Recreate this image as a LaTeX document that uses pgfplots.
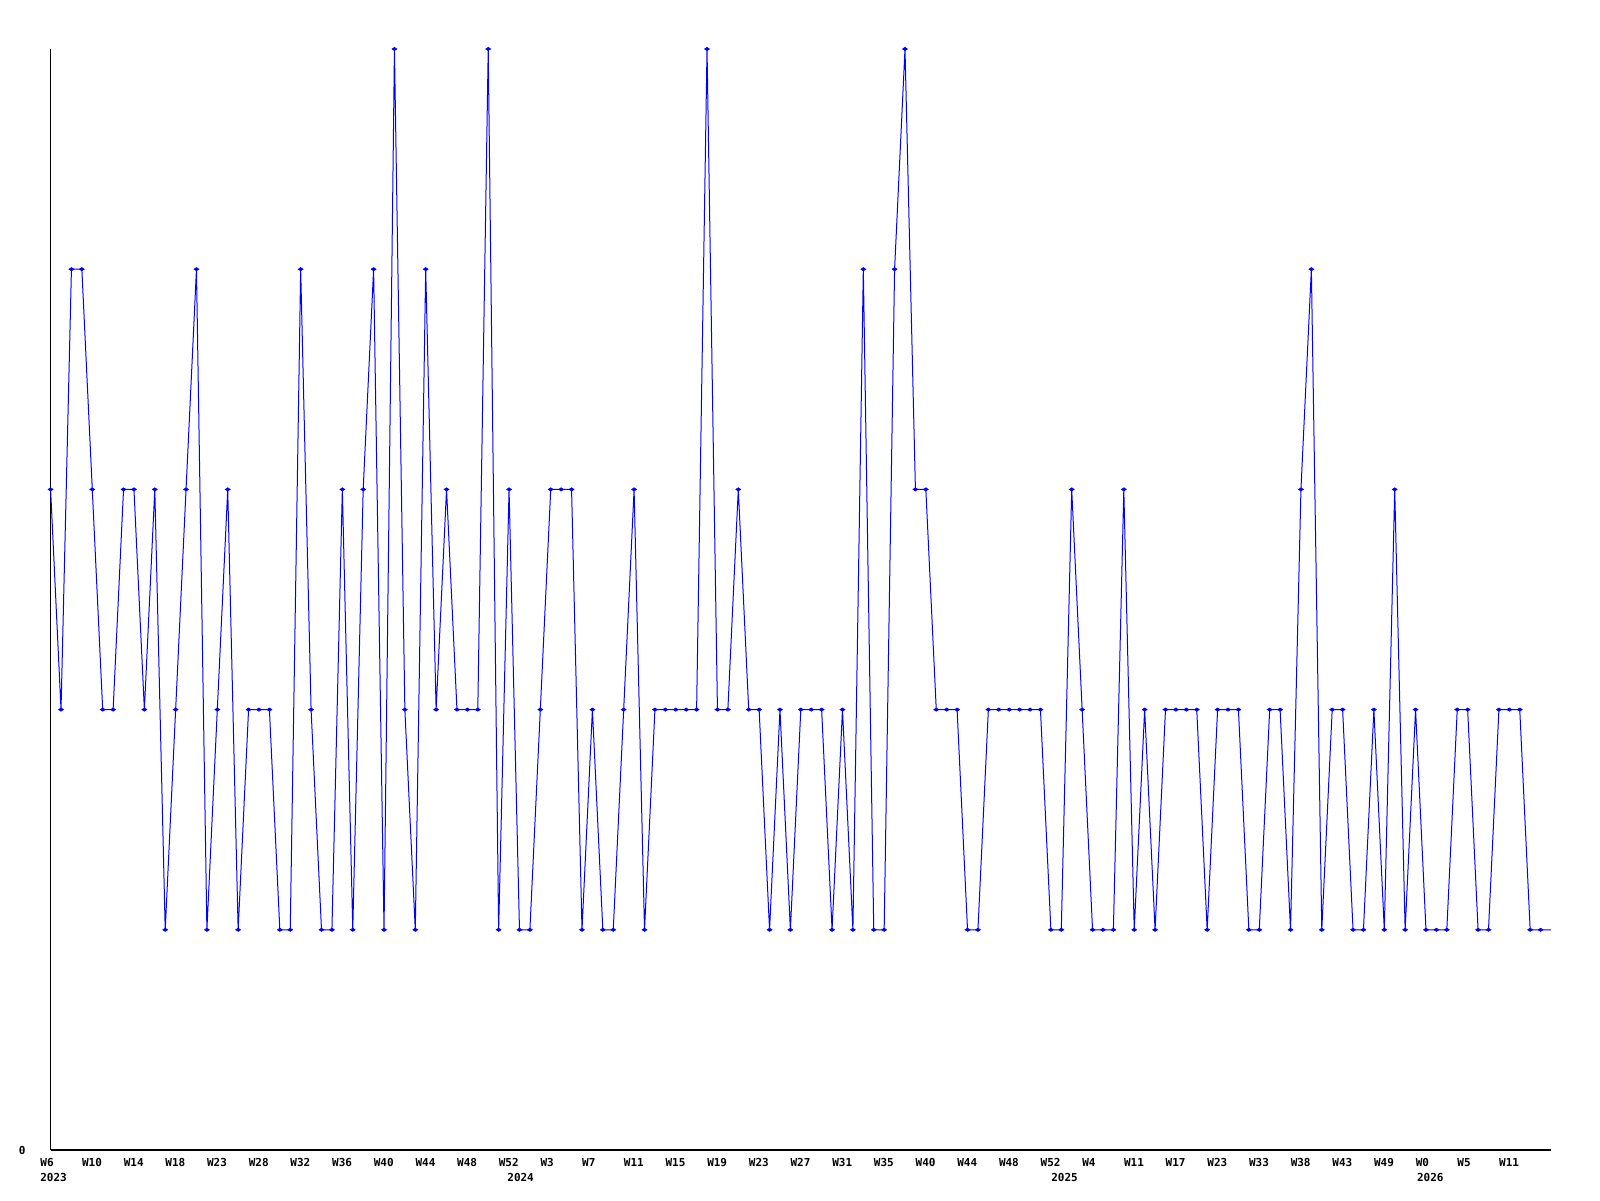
\documentclass[border=0pt]{standalone}
\usepackage{pgfplots}
\pgfplotsset{compat=1.18}
\usepackage{pgfplotstable}
\usepackage{fontspec}
\setmonofont{DejaVu Sans Mono}

% weekly counts, one row per plotted week (x = index)
\pgfplotstableread{
x y
0 3
1 2
2 4
3 4
4 3
5 2
6 2
7 3
8 3
9 2
10 3
11 1
12 2
13 3
14 4
15 1
16 2
17 3
18 1
19 2
20 2
21 2
22 1
23 1
24 4
25 2
26 1
27 1
28 3
29 1
30 3
31 4
32 1
33 5
34 2
35 1
36 4
37 2
38 3
39 2
40 2
41 2
42 5
43 1
44 3
45 1
46 1
47 2
48 3
49 3
50 3
51 1
52 2
53 1
54 1
55 2
56 3
57 1
58 2
59 2
60 2
61 2
62 2
63 5
64 2
65 2
66 3
67 2
68 2
69 1
70 2
71 1
72 2
73 2
74 2
75 1
76 2
77 1
78 4
79 1
80 1
81 4
82 5
83 3
84 3
85 2
86 2
87 2
88 1
89 1
90 2
91 2
92 2
93 2
94 2
95 2
96 1
97 1
98 3
99 2
100 1
101 1
102 1
103 3
104 1
105 2
106 1
107 2
108 2
109 2
110 2
111 1
112 2
113 2
114 2
115 1
116 1
117 2
118 2
119 1
120 3
121 4
122 1
123 2
124 2
125 1
126 1
127 2
128 1
129 3
130 1
131 2
132 1
133 1
134 1
135 2
136 2
137 1
138 1
139 2
140 2
141 2
142 1
143 1
144 1
}\weekly

\begin{document}
\begin{tikzpicture}
\path[use as bounding box] (-25.3pt,-25pt) rectangle (774.7pt,575pt);
\begin{axis}[
  scale only axis,
  width=750.2pt, height=550.5pt,
  xmin=0, xmax=144, ymin=0, ymax=5,
  axis x line=bottom, axis y line=left,
  axis line style={-, line width=0.6pt, black},
  clip=false,
  major tick length=0pt,
  font=\ttfamily\bfseries\fontsize{5.5}{6}\selectfont,
  xtick={0,4,...,140},
  xticklabels={W6,W10,W14,W18,W23,W28,W32,W36,W40,W44,W48,W52,
    W3,W7,W11,W15,W19,W23,W27,W31,W35,W40,W44,W48,W52,
    W4,W11,W17,W23,W33,W38,W43,W49,W0,W5,W11},
  xticklabel style={anchor=north west, inner sep=0pt, xshift=-5.3pt, yshift=-4pt},
  ytick={0}, yticklabels={0},
  yticklabel style={anchor=east, inner sep=0pt, xshift=-12.3pt},
]
\addplot[blue, line width=0.5pt] table[x=x, y=y] {\weekly};
\addplot[blue, only marks, mark=diamond*, mark size=1.4pt,
  mark options={xscale=1.1, yscale=0.55}, restrict x to domain=0:143]
  table[x=x, y=y] {\weekly};

\node[anchor=north west, inner sep=0pt, yshift=-11.5pt] at (axis cs:-1.03,0) {2023};
\node[anchor=north west, inner sep=0pt, yshift=-11.5pt] at (axis cs:43.8,0) {2024};
\node[anchor=north west, inner sep=0pt, yshift=-11.5pt] at (axis cs:96.0,0) {2025};
\node[anchor=north west, inner sep=0pt, yshift=-11.5pt] at (axis cs:131.1,0) {2026};
\end{axis}
\end{tikzpicture}
\end{document}
